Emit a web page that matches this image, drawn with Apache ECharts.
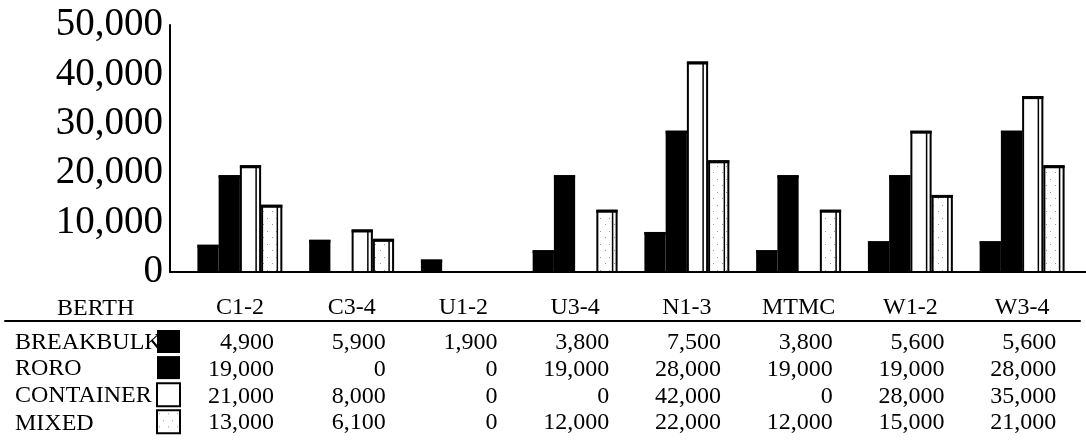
<!DOCTYPE html>
<html><head><meta charset="utf-8">
<script src="https://cdn.jsdelivr.net/npm/echarts@6/dist/echarts.min.js"></script>
<style>html,body{margin:0;padding:0;background:#fff}#c{width:1086px;height:441px}</style>
</head><body><div id="c"></div>
<script>
const categories = ['C1-2','C3-4','U1-2','U3-4','N1-3','MTMC','W1-2','W3-4'];
const seriesNames = ['BREAKBULK','RORO','CONTAINER','MIXED'];
const breakbulk = [4900,5900,1900,3800,7500,3800,5600,5600];
const roro = [19000,0,0,19000,28000,19000,19000,28000];
const container = [21000,8000,0,0,42000,0,28000,35000];
const mixed = [13000,6100,0,12000,22000,12000,15000,21000];
const yMax = 50000, yStep = 10000;

const FONT = "'Liberation Serif','Times New Roman',serif";
const rows = [breakbulk, roro, container, mixed];
const fmt = v => v.toLocaleString('en-US');

function stipple(){
  const c = document.createElement('canvas'); c.width = 9; c.height = 13;
  const g = c.getContext('2d');
  g.fillStyle = '#fff'; g.fillRect(0,0,9,13);
  g.fillStyle = '#9a9a9a'; g.fillRect(2,3,1,1); g.fillRect(6,10,1,1);
  return c;
}
const pat = {image: stipple(), repeat: 'repeat'};
const fills = ['#000','#000','#fff',pat];

function makeRender(s){
  return function(params, api){
    const v = api.value(1);
    if (!v) return null;
    const c = api.value(0);
    const top = api.coord([c, v]);
    const base = api.coord([c, 0]);
    const band = api.size([1, 0])[0];
    const bw = band * 0.76 / 4;
    const x0 = top[0] - 2 * bw + s * bw;
    const y0 = top[1] - 3;
    const h = base[1] - y0;
    return {type: 'group', children: [
      {type: 'rect', shape: {x: x0 + 1, y: y0 + 1, width: bw - 2, height: h - 1},
        style: {fill: fills[s], stroke: '#000', lineWidth: 2}},
      {type: 'line', shape: {x1: x0 + bw - 5, y1: y0 + 1, x2: x0 + bw - 5, y2: base[1]},
        style: {stroke: '#000', lineWidth: 1.5}},
      {type: 'rect', shape: {x: x0, y: y0, width: bw, height: 3}, style: {fill: '#000'}}
    ]};
  };
}

const chart = echarts.init(document.getElementById('c'));
const rowAxes = rows.map((r, k) => ({
  gridIndex: 0, type: 'category', data: categories, position: 'bottom', offset: 51 + 26.7 * k,
  axisLine: {show: false, onZero: false}, axisTick: {show: false},
  axisLabel: {interval: 0, margin: 8, formatter: (val, idx) => '{a|' + fmt(r[idx]) + '}',
    rich: {a: {width: 68, align: 'right', fontSize: 24, fontFamily: FONT, color: '#000'}}}
}));

chart.setOption({
  animation: false,
  backgroundColor: '#fff',
  title: {text: 'BERTH', left: 52, top: 292, textStyle: {fontFamily: FONT, fontSize: 24, fontWeight: 'normal', color: '#000'}},
  legend: {
    orient: 'vertical', left: 10, top: 327, height: 114, itemWidth: 23, itemHeight: 23, itemGap: 1.1, align: 'right',
    padding: [3, 5, 0, 5],
    selectedMode: false,
    formatter: n => '{a|' + n + '}',
    textStyle: {fontFamily: FONT, fontSize: 24, color: '#000', lineHeight: 23,
      rich: {a: {width: 137, height: 20, lineHeight: 20, padding: [3, 0, 0, 0], align: 'left', fontFamily: FONT, fontSize: 24, color: '#000'}}},
    data: seriesNames.map((n, i) => ({name: n, icon: 'rect',
      itemStyle: {color: fills[i], borderColor: '#000', borderWidth: i < 2 ? 0 : 2}}))
  },
  grid: [
    {left: 184, right: 8, top: 25, bottom: 169},
    {left: 170, right: 0, top: 25, bottom: 169},
    {left: 5, right: 6, top: 25, bottom: 169}
  ],
  xAxis: [
    {gridIndex: 0, type: 'category', data: categories, axisLine: {show: false}, axisTick: {show: false},
      axisLabel: {interval: 0, margin: 24, fontSize: 24, fontFamily: FONT, color: '#000'}},
    ...rowAxes,
    {gridIndex: 1, type: 'category', data: categories, axisLine: {onZero: false, lineStyle: {color: '#000', width: 2}},
      axisTick: {show: false}, axisLabel: {show: false}},
    {gridIndex: 2, type: 'category', data: categories, offset: 49, axisLine: {onZero: false, lineStyle: {color: '#000', width: 2}},
      axisTick: {show: false}, axisLabel: {show: false}}
  ],
  yAxis: [
    {gridIndex: 0, type: 'value', min: 0, max: yMax, interval: yStep, offset: 14,
      axisLine: {show: true, lineStyle: {color: '#000', width: 2}}, axisTick: {show: false}, splitLine: {show: false},
      axisLabel: {margin: 7, fontSize: 39, fontFamily: FONT, color: '#000', formatter: v => fmt(v)}},
    {gridIndex: 1, type: 'value', show: false, min: 0, max: yMax},
    {gridIndex: 2, type: 'value', show: false, min: 0, max: yMax}
  ],
  series: rows.map((r, s) => ({
    type: 'custom', name: seriesNames[s], xAxisIndex: 0, yAxisIndex: 0,
    itemStyle: {color: s < 2 ? '#000' : '#fff'},
    renderItem: makeRender(s),
    encode: {x: 0, y: 1},
    data: r.map((v, i) => [i, v])
  }))
});
</script></body></html>
